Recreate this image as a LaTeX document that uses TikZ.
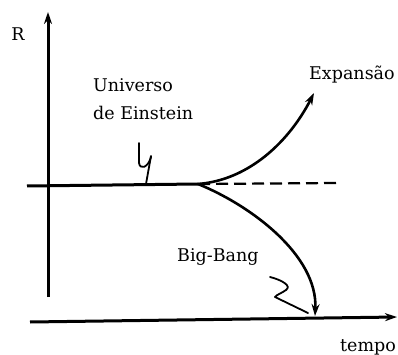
\documentclass[tikz,border=0pt]{standalone}
\usepackage{fontspec}
\setmainfont{DejaVu Serif}
\usetikzlibrary{arrows.meta}
\begin{document}
\begin{tikzpicture}[x=1pt,y=-1pt,
  axis/.style={line width=3pt},
  curve/.style={line width=2.6pt},
  tip/.style={-{Stealth[length=12pt,width=8pt]}},
  lbl/.style={font=\fontsize{17.5}{21}\selectfont, inner sep=0pt},
  pointer/.style={line width=1.8pt, line cap=round, line join=round}]
\useasboundingbox (0,0) rectangle (398,355);
% coordinates
\coordinate (ytop) at (48,12);
\coordinate (ybot) at (48,297);
\coordinate (hl) at (27,186);
\coordinate (junc) at (198,184);
\coordinate (dashend) at (338,183);
\coordinate (xl) at (30,322);
\coordinate (xr) at (397,317);
\coordinate (exptip) at (314,93);
\coordinate (bbtip) at (315,316);
% axes
\draw[axis,tip] (ybot) -- (ytop);
\draw[axis,tip] (xl) -- (xr);
\draw[axis] (hl) -- (junc);
\draw[line width=2.2pt, dash pattern=on 12pt off 6pt] (junc) -- (dashend);
% curves
\draw[curve,tip] (junc) .. controls (250,180) and (290,140) .. (exptip);
\draw[curve,tip] (junc) .. controls (250,205) and (318,255) .. (bbtip);
% labels
\node[lbl, anchor=center] (R) at (18,34) {R};
\node[lbl, anchor=base west] (univ) at (93,92) {Universo};
\node[lbl, anchor=base west] (ein) at (93,120) {de Einstein};
\node[lbl, anchor=base west] (exp) at (309,80) {Expansão};
\node[lbl, anchor=base west] (bb) at (177,261) {Big-Bang};
\node[lbl, anchor=base west] (tempo) at (340,351) {tempo};
% hand-drawn pointers
\draw[pointer] (139,143) -- (139,163) .. controls (140,170) and (148,168) .. (151,157);
\draw[pointer] (151,156) -- (146,184);
\draw[pointer] (270,277) .. controls (282,280) and (292,286) .. (286,290)
  .. controls (282,293) and (276,295) .. (275,297)
  -- (308,313);
\end{tikzpicture}
\end{document}
